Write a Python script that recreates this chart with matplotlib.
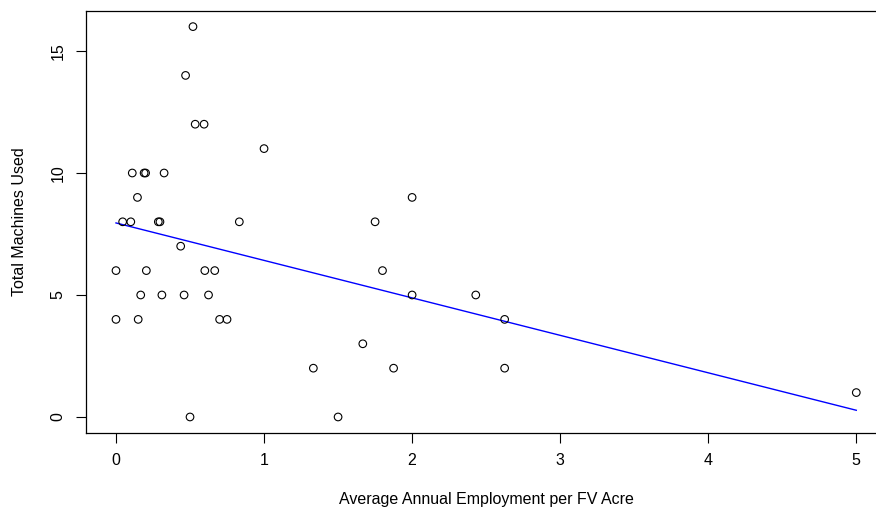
import numpy as np
import matplotlib
matplotlib.use("Agg")
import matplotlib.pyplot as plt

# Employment intensity vs. machinery count per farm
employment = [0.52, 0.47, 0.535, 0.595, 1.0,
              0.11, 0.19, 0.2, 0.325,
              0.145, 2.0,
              0.045, 0.1, 0.286, 0.297, 0.833, 1.75,
              0.437,
              0.0, 0.205, 0.6, 0.667, 1.8,
              0.167, 0.31, 0.46, 0.625, 2.0, 2.43,
              0.0, 0.15, 0.7, 0.75, 2.625,
              1.667,
              1.333, 1.875, 2.625,
              0.5, 1.5,
              5.0]
machines = [16, 14, 12, 12, 11,
            10, 10, 10, 10,
            9, 9,
            8, 8, 8, 8, 8, 8,
            7,
            6, 6, 6, 6, 6,
            5, 5, 5, 5, 5, 5,
            4, 4, 4, 4, 4,
            3,
            2, 2, 2,
            0, 0,
            1]

x_ticks = [0, 1, 2, 3, 4, 5]
y_ticks = [0, 5, 10, 15]

plt.rcParams['font.family'] = ['Liberation Sans', 'DejaVu Sans']

fig = plt.figure(figsize=(8.76, 5.12), dpi=100)
ax = fig.add_axes([0.0986, 0.1551, 0.9127, 0.8234])

x = np.asarray(employment, dtype=float)
y = np.asarray(machines, dtype=float)

ax.scatter(x, y, s=30, facecolors='none', edgecolors='black', linewidths=0.8, zorder=3)

# least-squares fit drawn over the observed range
slope, intercept = np.polyfit(x, y, 1)
xs = np.array([x.min(), x.max()])
ax.plot(xs, intercept + slope * xs, color='#0000ff', lw=1.0, zorder=2)

ax.set_xlim(-0.2, 5.2)
ax.set_ylim(-0.64, 16.64)
ax.set_xticks(x_ticks)
ax.set_yticks(y_ticks)
ax.set_xticklabels([str(v) for v in x_ticks], fontsize=11.5)
ax.set_yticklabels([str(v) for v in y_ticks], fontsize=11.5, rotation=90, va='center')
ax.tick_params(axis='both', length=7, width=0.8, color='black', pad=8)
for sp in ax.spines.values():
    sp.set_linewidth(0.9)
    sp.set_color('black')
ax.spines['right'].set_visible(False)

ax.set_xlabel('Average Annual Employment per FV Acre', fontsize=11.5, labelpad=17)
ax.set_ylabel('Total Machines Used', fontsize=11.5, labelpad=17)

fig.savefig('out.png', dpi=100)
